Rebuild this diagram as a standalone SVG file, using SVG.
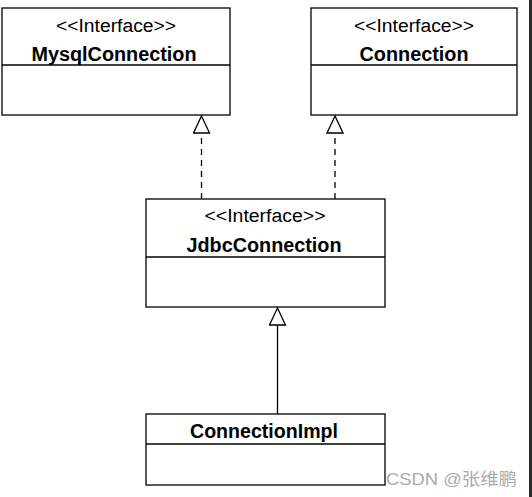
<svg xmlns="http://www.w3.org/2000/svg" width="532" height="497" viewBox="0 0 532 497">
  <defs>
    <style>
      .box { fill: #ffffff; stroke: #000000; stroke-width: 1.3; }
      .div { stroke: #000000; stroke-width: 1.3; fill: none; }
      .st { font-family: "Liberation Sans", Arial, sans-serif; font-size: 18px; fill: #000000; text-anchor: middle; }
      .nm { font-family: "Liberation Sans", Arial, sans-serif; font-size: 19.5px; font-weight: bold; fill: #000000; text-anchor: middle; }
      .dash { stroke: #000000; stroke-width: 1.3; fill: none; stroke-dasharray: 6 5; }
      .solid { stroke: #000000; stroke-width: 1.3; fill: none; }
      .wm { font-family: "Liberation Sans", "Noto Sans CJK SC", sans-serif; font-size: 17px; fill: #ababab; }
    </style>
    <marker id="tri" viewBox="-1 -9 19 18" markerWidth="19" markerHeight="18" refX="0" refY="0" orient="auto" markerUnits="userSpaceOnUse">
      <path d="M0,-8 L17,0 L0,8 Z" fill="#ffffff" stroke="#000000" stroke-width="1.3"/>
    </marker>
  </defs>
  <rect x="0" y="0" width="532" height="497" fill="#ffffff"/>
  <rect x="529" y="0" width="3" height="497" fill="#2a2a2a"/>

  <g id="connectors">
    <path class="dash" d="M201.5,199 L201.5,133" marker-end="url(#tri)"/>
    <path class="dash" d="M335,199 L335,133" marker-end="url(#tri)"/>
    <path class="solid" d="M277.5,414 L277.5,325" marker-end="url(#tri)"/>
  </g>

  <g id="MysqlConnection">
    <rect class="box" x="2" y="8" width="228" height="107"/>
    <line class="div" x1="2" y1="65" x2="230" y2="65"/>
    <text class="st" x="116" y="31.5" textLength="120" lengthAdjust="spacingAndGlyphs">&lt;&lt;Interface&gt;&gt;</text>
    <text class="nm" x="114" y="61" textLength="165" lengthAdjust="spacingAndGlyphs">MysqlConnection</text>
  </g>

  <g id="Connection">
    <rect class="box" x="311" y="8" width="206" height="107"/>
    <line class="div" x1="311" y1="65" x2="517" y2="65"/>
    <text class="st" x="414" y="31.5" textLength="120" lengthAdjust="spacingAndGlyphs">&lt;&lt;Interface&gt;&gt;</text>
    <text class="nm" x="414" y="61" textLength="109" lengthAdjust="spacingAndGlyphs">Connection</text>
  </g>

  <g id="JdbcConnection">
    <rect class="box" x="146" y="199" width="239" height="108"/>
    <line class="div" x1="146" y1="257" x2="385" y2="257"/>
    <text class="st" x="265" y="222" textLength="121" lengthAdjust="spacingAndGlyphs">&lt;&lt;Interface&gt;&gt;</text>
    <text class="nm" x="264" y="251.5" textLength="155" lengthAdjust="spacingAndGlyphs">JdbcConnection</text>
  </g>

  <g id="ConnectionImpl">
    <rect class="box" x="146" y="414" width="239" height="71"/>
    <line class="div" x1="146" y1="444" x2="385" y2="444"/>
    <text class="nm" x="264" y="437.5" textLength="148" lengthAdjust="spacingAndGlyphs">ConnectionImpl</text>
  </g>

  <text class="wm" x="386" y="485" textLength="131" lengthAdjust="spacingAndGlyphs">CSDN @张维鹏</text>
</svg>
